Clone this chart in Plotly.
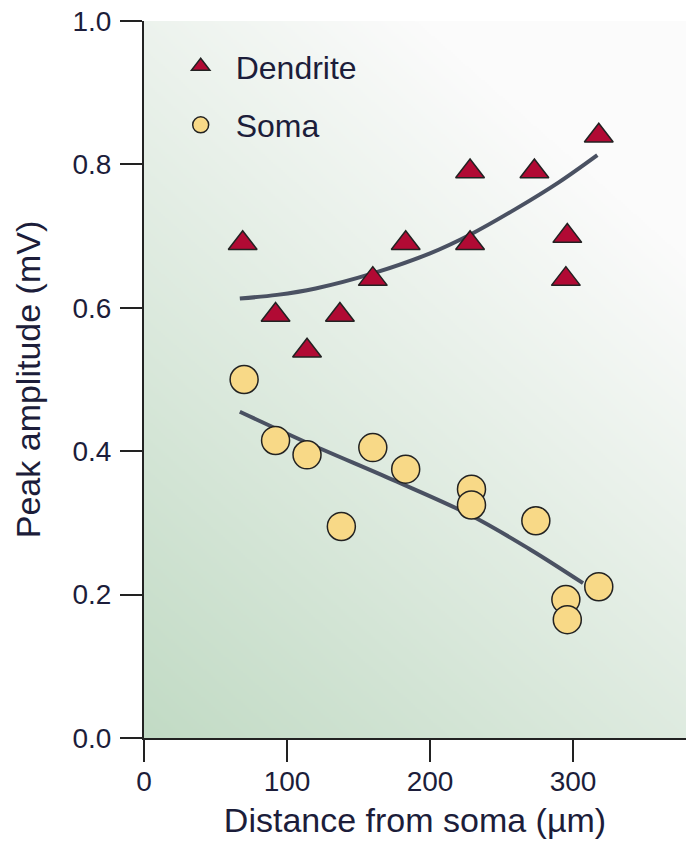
import base64
import struct
import zlib

import numpy as np
import plotly.graph_objects as go

# ---- data ----
dendrite_x = [69, 92, 114, 137, 160, 183, 228, 228, 273, 295, 296, 318]
dendrite_y = [0.69, 0.59, 0.54, 0.59, 0.64, 0.69, 0.69, 0.79, 0.79, 0.64, 0.70, 0.84]

soma_x = [70, 92, 114, 138, 160, 183, 229, 229, 274, 295, 296, 318]
soma_y = [0.50, 0.415, 0.395, 0.295, 0.405, 0.375, 0.347, 0.325, 0.303, 0.193, 0.165, 0.211]

dend_fit_x = [67, 93, 120, 160, 200, 228, 260, 290, 317]
dend_fit_y = [0.613, 0.618, 0.627, 0.648, 0.676, 0.702, 0.738, 0.775, 0.813]

soma_fit_x = [67, 116, 174, 228, 270, 307]
soma_fit_y = [0.455, 0.410, 0.360, 0.311, 0.263, 0.216]

x_ticks = [0, 100, 200, 300]
y_ticks = [0.0, 0.2, 0.4, 0.6, 0.8, 1.0]

# ---- background gradient image (green bottom-left -> white top-right) ----
def gradient_png(w, h):
    u = np.linspace(0, 1, w)[None, :]
    v = np.linspace(1, 0, h)[:, None]  # 1 at top
    t = np.clip(0.5 * u + 0.75 * v, 0, 1)
    c0 = np.array([194, 219, 197], dtype=float)
    c1 = np.array([251, 251, 251], dtype=float)
    img = c0[None, None, :] + (c1 - c0)[None, None, :] * t[:, :, None]
    img = np.clip(img, 0, 255).astype(np.uint8)
    raw = b"".join(b"\x00" + img[r].tobytes() for r in range(h))

    def chunk(tag, data):
        c = struct.pack(">I", len(data)) + tag + data
        return c + struct.pack(">I", zlib.crc32(tag + data) & 0xFFFFFFFF)

    png = b"\x89PNG\r\n\x1a\n"
    png += chunk(b"IHDR", struct.pack(">IIBBBBB", w, h, 8, 2, 0, 0, 0))
    png += chunk(b"IDAT", zlib.compress(raw, 9))
    png += chunk(b"IEND", b"")
    return "data:image/png;base64," + base64.b64encode(png).decode()


bg_src = gradient_png(271, 358)

FONT = "Liberation Sans"
TXT = "#1c1d3a"
LINE = "#4a5162"

fig = go.Figure()

fig.add_trace(go.Scatter(
    x=dend_fit_x, y=dend_fit_y, mode="lines", line=dict(color=LINE, width=4, shape="spline"),
    showlegend=False, hoverinfo="skip"))
fig.add_trace(go.Scatter(
    x=soma_fit_x, y=soma_fit_y, mode="lines", line=dict(color=LINE, width=4, shape="spline"),
    showlegend=False, hoverinfo="skip"))

fig.add_trace(go.Scatter(
    x=dendrite_x, y=dendrite_y, mode="markers", name="Dendrite", legendgroup="d",
    marker=dict(symbol="triangle-up", size=25, color="#b10a34",
                line=dict(color="#222222", width=1.5))))
fig.add_trace(go.Scatter(
    x=soma_x, y=soma_y, mode="markers", name="Soma", legendgroup="s",
    marker=dict(symbol="circle", size=28, color="#f8d987",
                line=dict(color="#222222", width=1.5))))

fig.update_layout(
    width=686, height=847,
    margin=dict(l=144, r=0, t=21, b=109),
    paper_bgcolor="white",
    plot_bgcolor="rgba(0,0,0,0)",
    font=dict(family=FONT, color=TXT, size=28),
    images=[dict(source=bg_src, xref="paper", yref="paper", x=0, y=1, sizex=1, sizey=1,
                 sizing="stretch", layer="below", xanchor="left", yanchor="top")],
    showlegend=True,
    legend=dict(x=0.04, y=0.975, xanchor="left", yanchor="top", itemwidth=60,
                bgcolor="rgba(0,0,0,0)", font=dict(family=FONT, size=32, color=TXT),
                itemsizing="trace", tracegroupgap=14, traceorder="grouped"),
    xaxis=dict(
        range=[0, 379], tickvals=x_ticks, ticktext=[str(v) for v in x_ticks],
        showgrid=False, zeroline=False, showline=True, linecolor="#222222", linewidth=2,
        ticks="outside", ticklen=22, tickwidth=2, tickcolor="#222222",
        tickfont=dict(size=28, color=TXT, family=FONT), ticklabelstandoff=-5,
        title=dict(text="Distance from soma (µm)", font=dict(size=34, color=TXT, family=FONT),
                   standoff=13),
    ),
    yaxis=dict(
        range=[0, 1.0], tickvals=y_ticks, ticktext=[f"{v:.1f}" for v in y_ticks],
        showgrid=False, zeroline=False, showline=True, linecolor="#222222", linewidth=2,
        ticks="outside", ticklen=22, tickwidth=2, tickcolor="#222222",
        tickfont=dict(size=28, color=TXT, family=FONT), ticklabelstandoff=3,
        title=dict(text="Peak amplitude (mV)", font=dict(size=34, color=TXT, family=FONT),
                   standoff=22),
    ),
)

fig.write_html("out.html")
